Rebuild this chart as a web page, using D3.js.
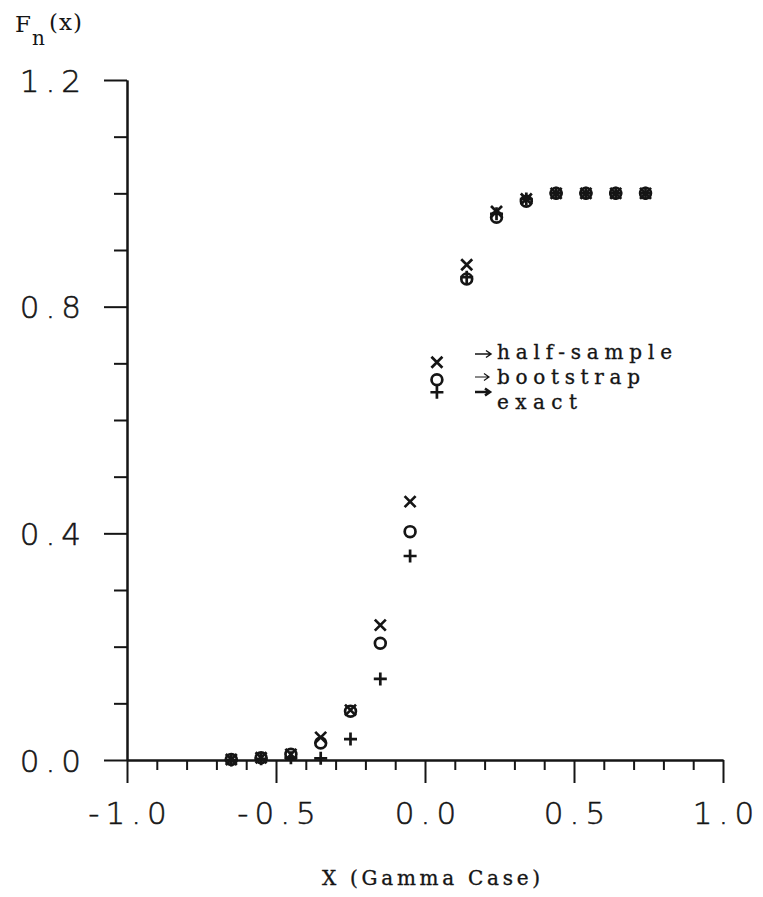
<!DOCTYPE html>
<html><head><meta charset="utf-8">
<script src="https://cdn.jsdelivr.net/npm/d3@7"></script>
<style>body{margin:0;background:#fff}</style>
</head><body>
<svg id="c" width="763" height="897"></svg>
<script>
// ---- data ----
const xValues    = [-0.65,-0.55,-0.45,-0.35,-0.25,-0.15,-0.05,0.04,0.14,0.24,0.34,0.44,0.54,0.64,0.74];
const halfSample = [0.001,0.004,0.010,0.040,0.088,0.238,0.456,0.702,0.874,0.968,0.990,1.000,1.000,1.000,1.000];
const bootstrap  = [0.001,0.004,0.010,0.030,0.086,0.206,0.403,0.671,0.849,0.958,0.986,1.000,1.000,1.000,1.000];
const exact      = [0.000,0.002,0.004,0.003,0.037,0.143,0.360,0.649,0.852,0.964,0.990,1.000,1.000,1.000,1.000];
const xMajorTicks = [-1,-0.5,0,0.5,1];
const xTickLabels = ["-1.0","-0.5","0.0","0.5","1.0"];
const yMajorTicks = [0,0.4,0.8,1.2];
const yTickLabels = ["0.0","0.4","0.8","1.2"];
const xMinorTicks = [-0.9,-0.8,-0.7,-0.6,-0.4,-0.3,-0.2,-0.1,0.1,0.2,0.3,0.4,0.6,0.7,0.8,0.9];
const yMinorTicks = [0.1,0.2,0.3,0.5,0.6,0.7,0.9,1.0,1.1];
const legendLabels = ["half-sample","bootstrap","exact"];
const xTitle = "X (Gamma Case)";

// ---- drawing ----
const ink = "#151515";
const serif = "'DejaVu Serif', 'Liberation Serif', serif";
const svg = d3.select("#c");
svg.append("rect").attr("width",763).attr("height",897).attr("fill","#fff");

const x = d3.scaleLinear().domain([-1,1]).range([127,723]);
const y = d3.scaleLinear().domain([0,1.2]).range([760,80]);

function styleAxis(g){
  g.selectAll("path,line").attr("stroke",ink).attr("stroke-width",2);
  g.selectAll("text").remove();
}
// x axis
svg.append("g").attr("transform","translate(0,"+y(0)+")")
  .call(d3.axisBottom(x).tickValues(xMinorTicks).tickSize(10).tickSizeOuter(0).tickFormat(""))
  .call(styleAxis);
const gx = svg.append("g").attr("transform","translate(0,"+y(0)+")")
  .call(d3.axisBottom(x).tickValues(xMajorTicks).tickSize(23).tickSizeOuter(0).tickFormat((d,i)=>xTickLabels[i]));
gx.selectAll("path,line").attr("stroke",ink).attr("stroke-width",2);
gx.selectAll("text")
  .attr("font-family","'DejaVu Sans', sans-serif").attr("font-weight",200)
  .attr("font-size",31).attr("letter-spacing",6).attr("fill",ink)
  .attr("stroke",ink).attr("stroke-width",0.5)
  .attr("y",42).attr("dy","0.71em").attr("dx",3);

// y axis
svg.append("g").attr("transform","translate("+x(-1)+",0)")
  .call(d3.axisLeft(y).tickValues(yMinorTicks).tickSize(13).tickSizeOuter(0).tickFormat(""))
  .call(styleAxis);
const gy = svg.append("g").attr("transform","translate("+x(-1)+",0)")
  .call(d3.axisLeft(y).tickValues(yMajorTicks).tickSize(23).tickSizeOuter(0).tickFormat((d,i)=>yTickLabels[i]));
gy.selectAll("path,line").attr("stroke",ink).attr("stroke-width",2);
gy.selectAll("text")
  .attr("font-family","'DejaVu Sans', sans-serif").attr("font-weight",200)
  .attr("font-size",31).attr("letter-spacing",6).attr("fill",ink)
  .attr("stroke",ink).attr("stroke-width",0.5)
  .attr("x",-40).attr("dy","0.36em");

// markers
const sw = 2.7;
const gExact = svg.append("g").attr("stroke",ink).attr("stroke-width",sw).attr("fill","none");
xValues.forEach((xv,i)=>{
  const cx = x(xv), cy = y(exact[i]);
  gExact.append("path").attr("d",`M${cx-6.5},${cy}H${cx+6.5}M${cx},${cy-6.5}V${cy+6.5}`);
});
const gBoot = svg.append("g").attr("stroke",ink).attr("stroke-width",sw).attr("fill","none");
xValues.forEach((xv,i)=>{
  gBoot.append("circle").attr("cx",x(xv)).attr("cy",y(bootstrap[i])).attr("r",5.4);
});
const gHalf = svg.append("g").attr("stroke",ink).attr("stroke-width",sw).attr("fill","none");
xValues.forEach((xv,i)=>{
  const cx = x(xv), cy = y(halfSample[i]), s=5.5;
  gHalf.append("path").attr("d",`M${cx-s},${cy-s}L${cx+s},${cy+s}M${cx-s},${cy+s}L${cx+s},${cy-s}`);
});

// legend arrows + labels
const legY = [359,384,409];
const legW = [175,143,80];
legendLabels.forEach((t,i)=>{
  svg.append("text").attr("x",497).attr("y",legY[i]).text(t)
    .attr("font-family",serif).attr("font-size",20)
    .attr("stroke",ink).attr("stroke-width",0.35)
    .attr("textLength",legW[i]).attr("lengthAdjust","spacing").attr("fill",ink);
});
const arrows = [{y:354,w:16,sw:1.5},{y:377,w:14,sw:1.2},{y:392,w:15,sw:2.5}];
arrows.forEach(a=>{
  const x0=475, x1=x0+a.w;
  svg.append("path")
    .attr("d",`M${x0},${a.y}H${x1}M${x1-5},${a.y-3.5}L${x1},${a.y}L${x1-5},${a.y+3.5}`)
    .attr("stroke",ink).attr("stroke-width",a.sw).attr("fill","none");
});

// axis titles
svg.append("text").attr("x",322).attr("y",885).text(xTitle)
  .attr("font-family",serif).attr("font-size",20)
  .attr("stroke",ink).attr("stroke-width",0.35)
  .attr("textLength",218).attr("lengthAdjust","spacing").attr("fill",ink);
svg.append("text").attr("x",15).attr("y",32).text("F")
  .attr("font-family",serif).attr("font-size",23).attr("fill",ink);
svg.append("text").attr("x",32).attr("y",45).text("n")
  .attr("font-family",serif).attr("font-size",20).attr("fill",ink);
svg.append("text").attr("x",49).attr("y",30).text("(x)")
  .attr("font-family",serif).attr("font-size",23).attr("letter-spacing",1).attr("fill",ink);
</script>
</body></html>
